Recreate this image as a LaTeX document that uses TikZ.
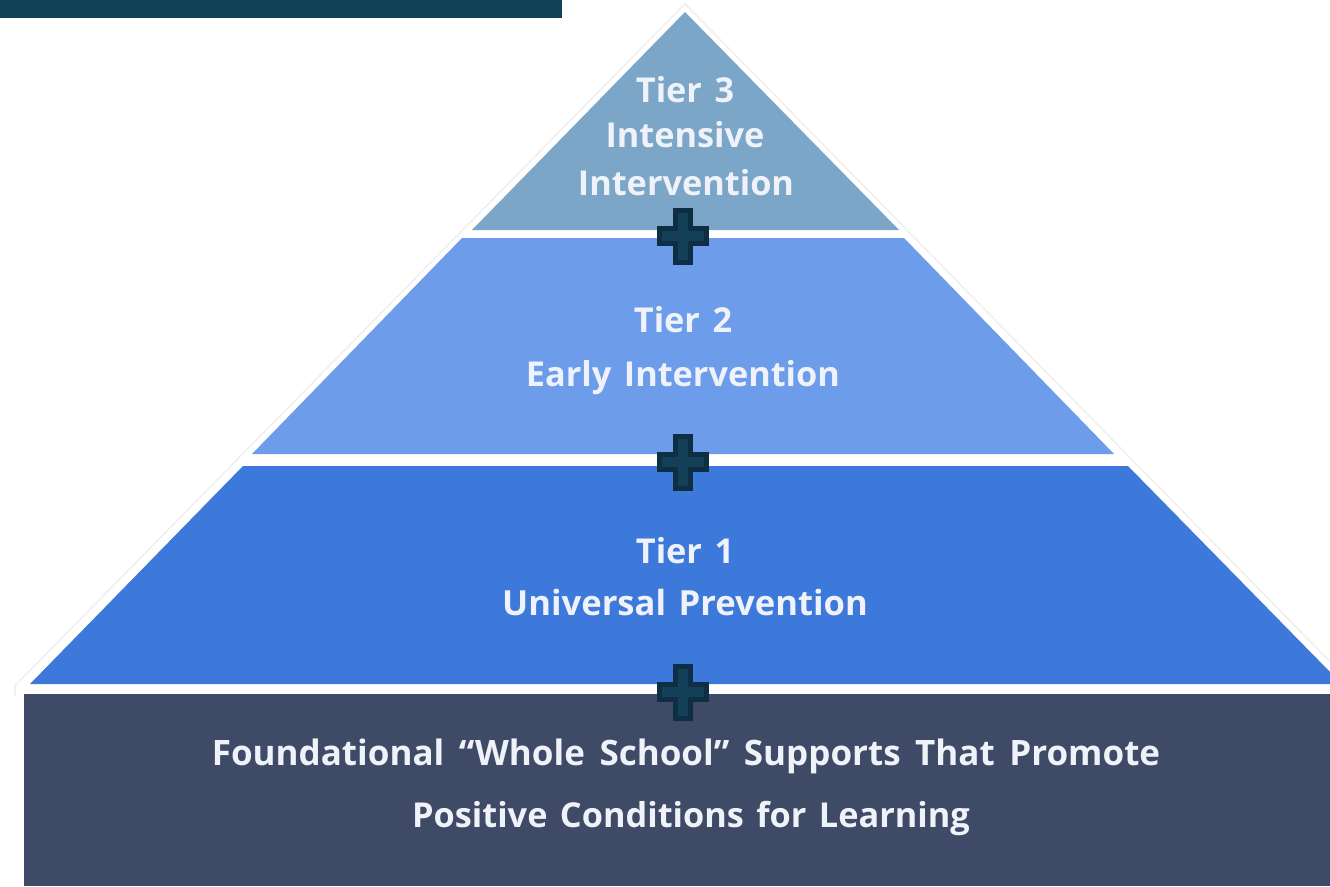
\documentclass[tikz,border=0pt]{standalone}
\usepackage{fontspec}
\setmainfont[WordSpace=1.4]{Open Sans}
\newfontfamily\widespaced[WordSpace=1.6]{Open Sans}
\definecolor{tierC}{HTML}{7BA6C7}
\definecolor{tierB}{HTML}{6C9CEA}
\definecolor{tierA}{HTML}{3D78DB}
\definecolor{basecol}{HTML}{3F4A66}
\definecolor{topbar}{HTML}{12425A}
\definecolor{plusfill}{HTML}{133F58}
\definecolor{plusline}{HTML}{0E2E44}
\definecolor{labelcol}{HTML}{EFF3F9}
\tikzset{
  x=1pt,y=-1pt,
  tierlabel/.style={text=labelcol,font=\bfseries\fontsize{34.3}{34.3}\selectfont,inner sep=0pt,anchor=center},
  baselabel/.style={tierlabel},
  plusmark/.pic={
    \draw[fill=plusfill,draw=plusline,line width=5pt,line join=miter]
      (-7.5,-26) -- (7.5,-26) -- (7.5,-7.5) -- (23.5,-7.5) -- (23.5,7.5) -- (7.5,7.5) -- (7.5,26) -- (-7.5,26) -- (-7.5,7.5) -- (-23.5,7.5) -- (-23.5,-7.5) -- (-7.5,-7.5) -- cycle;
  }
}
\begin{document}
\begin{tikzpicture}
\useasboundingbox (0,0) rectangle (1330,886);
\fill[white] (0,0) rectangle (1330,886);
% faint outline of the white pyramid
\draw[black!6,line width=2pt,line join=round] (15,696) -- (15,686) -- (685,4) -- (1330,662);
\fill[white] (16,696) -- (16,686) -- (685,5) -- (1330,663) -- (1330,696) -- cycle;
\fill[topbar] (0,0) rectangle (562,18);
\fill[tierC] (685,12) -- (899,230) -- (472,230) -- cycle;
\fill[tierB] (462,238) -- (904,238) -- (1114,454) -- (252,454) -- cycle;
\fill[tierA] (243,466) -- (1128,466) -- (1330,672) -- (1330,684) -- (30,684) -- cycle;
\fill[basecol] (24,694) rectangle (1330,886);
\path (683,236) pic {plusmark};
\path (683,462) pic {plusmark};
\path (683,692) pic {plusmark};
\node[tierlabel] (t3a) at (685,90) {Tier 3};
\node[tierlabel] (t3b) at (685,135) {Intensive};
\node[tierlabel] (t3c) at (686,183) {Intervention};
\node[tierlabel] (t2a) at (683,320) {Tier 2};
\node[tierlabel] (t2b) at (683,378) {Early Intervention};
\node[tierlabel] (t1a) at (685,551) {Tier 1};
\node[tierlabel,font=\bfseries\fontsize{34.6}{34.6}\selectfont] (t1b) at (685,603) {Universal Prevention};
\node[baselabel,font=\bfseries\fontsize{35}{35}\selectfont] (ba) at (686,756) {\widespaced\bfseries Foundational “Whole School” Supports That Promote};
\node[baselabel] (bb) at (691,818.5) {Positive Conditions for Learning};
\end{tikzpicture}
\end{document}
